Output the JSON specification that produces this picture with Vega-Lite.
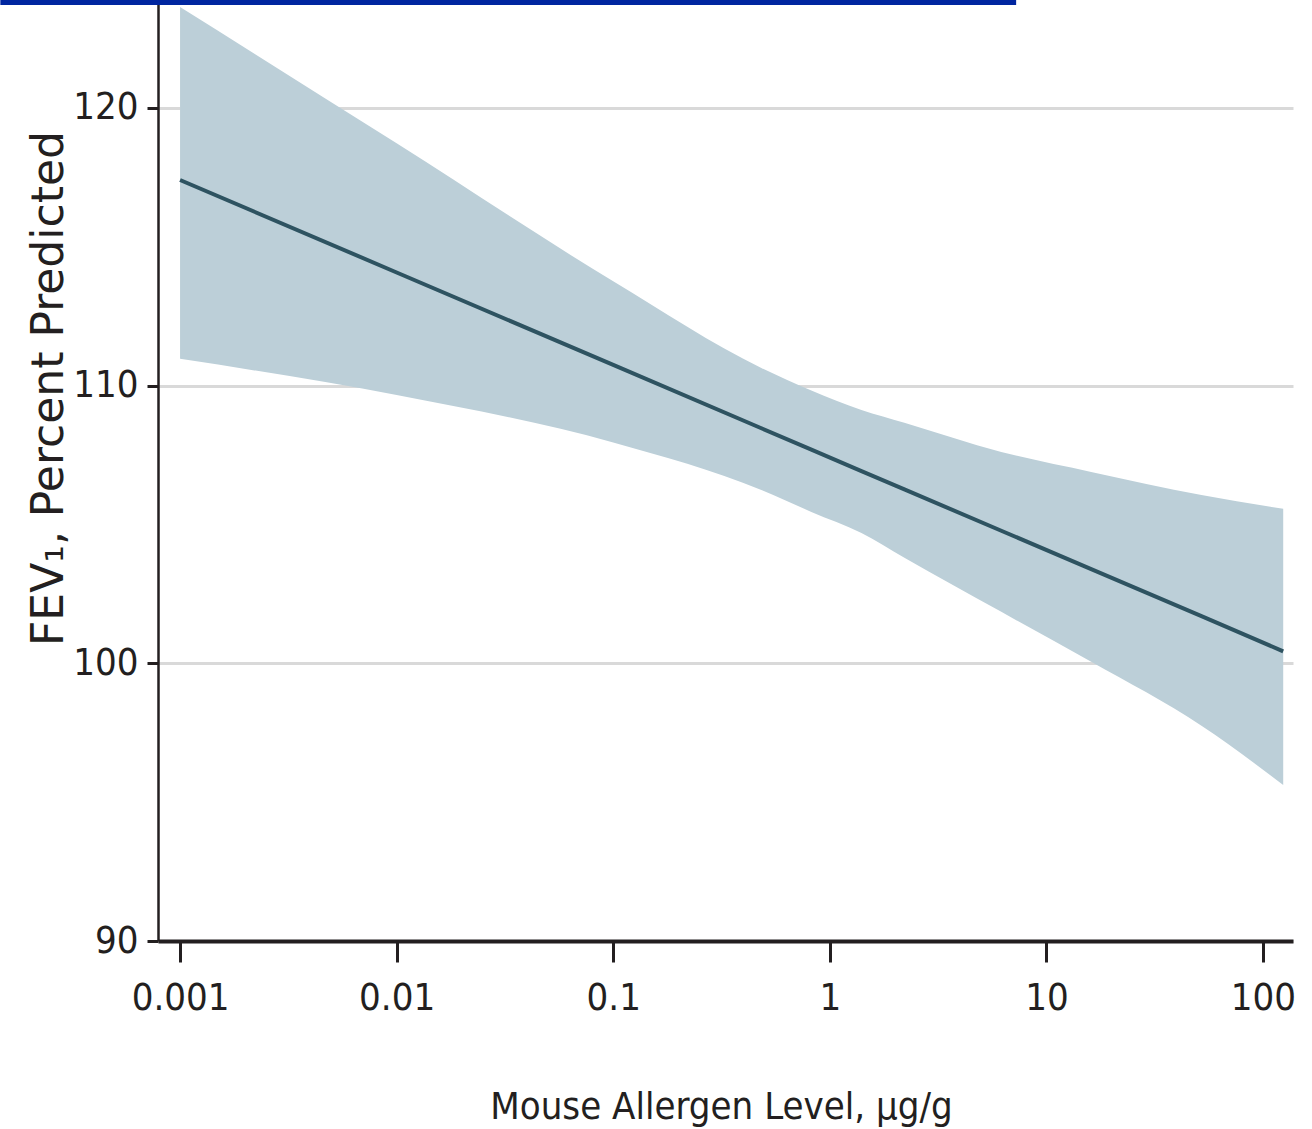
{
  "$schema": "https://vega.github.io/schema/vega-lite/v6.json",
  "width": 1135,
  "height": 941,
  "autosize": {"type": "none"},
  "padding": {"left": 158, "top": 0, "right": 19, "bottom": 188},
  "background": "white",
  "config": {
    "view": {"stroke": null},
    "axis": {
      "labelFont": "DejaVu Sans Condensed, sans-serif",
      "labelColor": "#231f20",
      "titleColor": "#231f20",
      "domainColor": "#231f20",
      "tickColor": "#231f20"
    }
  },
  "datasets": {
    "band": [
      {"allergen": 0.001, "lower": 110.96, "upper": 123.63, "fit": 117.40},
      {"allergen": 0.01, "lower": 109.66, "upper": 118.72, "fit": 114.07},
      {"allergen": 0.1, "lower": 107.95, "upper": 113.75, "fit": 110.74},
      {"allergen": 0.483, "lower": 106.24, "upper": 110.63, "fit": 108.46},
      {"allergen": 0.822, "lower": 105.45, "upper": 109.82, "fit": 107.69},
      {"allergen": 1.4, "lower": 104.69, "upper": 109.12, "fit": 106.92},
      {"allergen": 2.21, "lower": 103.80, "upper": 108.66, "fit": 106.26},
      {"allergen": 6.19, "lower": 101.85, "upper": 107.61, "fit": 104.77},
      {"allergen": 16.1, "lower": 100.05, "upper": 106.89, "fit": 103.39},
      {"allergen": 52, "lower": 97.75, "upper": 106.06, "fit": 101.70},
      {"allergen": 124, "lower": 95.62, "upper": 105.56, "fit": 100.43}
    ],
    "banner": [
      {"start": 0.000148, "end": 7.25, "level": 123.88}
    ]
  },
  "layer": [
    {
      "data": {"name": "band"},
      "mark": {"type": "area", "color": "#bccfd8", "opacity": 1, "interpolate": "monotone"},
      "encoding": {
        "x": {
          "field": "allergen",
          "type": "quantitative",
          "scale": {"type": "log", "domain": [0.000791, 137.6], "nice": false},
          "axis": {
            "title": "Mouse Allergen Level, μg/g",
            "values": [0.001, 0.01, 0.1, 1, 10, 100],
            "labelExpr": "format(datum.value, '~g')",
            "grid": false,
            "domainWidth": 4,
            "tickWidth": 3,
            "tickSize": 21,
            "labelFontSize": 38,
            "labelBaseline": "alphabetic",
            "labelPadding": 47,
            "labelFlush": false,
            "titleFont": "DejaVu Sans Condensed, sans-serif",
            "titleFontSize": 38,
            "titleFontWeight": "normal",
            "titleBaseline": "alphabetic",
            "titleX": 563,
            "titleY": 177
          }
        },
        "y": {
          "field": "lower",
          "type": "quantitative",
          "scale": {"domain": [90, 123.88], "nice": false, "zero": false},
          "axis": {
            "title": "FEV₁, Percent Predicted",
            "values": [90, 100, 110, 120],
            "grid": true,
            "gridColor": "#d9d9d9",
            "gridWidth": 3,
            "domainWidth": 2.5,
            "tickWidth": 3,
            "tickSize": 11,
            "labelFontSize": 38,
            "labelPadding": 9,
            "titleFont": "DejaVu Sans, Verdana, sans-serif",
            "titleFontSize": 44,
            "titleFontWeight": "normal",
            "titleAngle": 270,
            "titleBaseline": "alphabetic",
            "titleAlign": "center",
            "titleX": -96,
            "titleY": 388
          }
        },
        "y2": {"field": "upper"}
      }
    },
    {
      "data": {"name": "band"},
      "mark": {"type": "line", "color": "#2e5361", "strokeWidth": 4},
      "encoding": {
        "x": {"field": "allergen", "type": "quantitative"},
        "y": {"field": "fit", "type": "quantitative"}
      }
    },
    {
      "data": {"name": "banner"},
      "mark": {"type": "rule", "color": "#0026a0", "strokeWidth": 10, "clip": false},
      "encoding": {
        "x": {"field": "start", "type": "quantitative"},
        "x2": {"field": "end"},
        "y": {"field": "level", "type": "quantitative"}
      }
    }
  ]
}
